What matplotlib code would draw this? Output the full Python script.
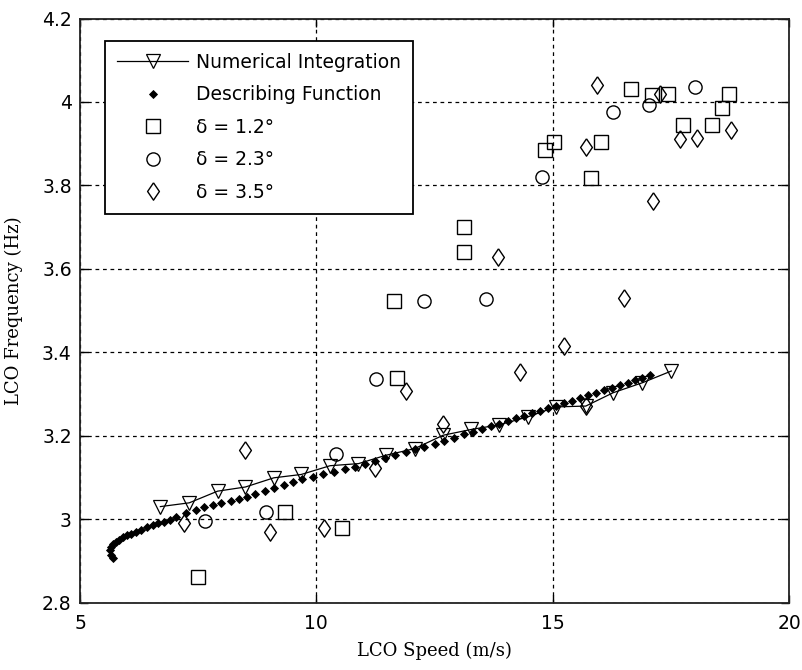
import matplotlib
matplotlib.use("Agg")
import matplotlib.pyplot as plt
from matplotlib.ticker import FuncFormatter

# numerical integration (triangles joined by a line)
num_speed = [6.70, 7.31, 7.91, 8.50, 9.10, 9.68, 10.29, 10.89, 11.47, 12.08,
             12.68, 13.28, 13.87, 14.47, 15.07, 15.70, 16.28, 16.90, 17.51]
num_freq = [3.030, 3.039, 3.067, 3.077, 3.099, 3.107, 3.128, 3.133, 3.153, 3.169,
            3.201, 3.215, 3.226, 3.245, 3.269, 3.271, 3.303, 3.327, 3.355]

# describing function (dense small dots)
df_speed = [5.70, 5.66, 5.63, 5.65, 5.70, 5.76, 5.83, 5.91, 6.00, 6.08,
            6.18, 6.29, 6.41, 6.54, 6.66, 6.78, 6.90, 7.03, 7.24, 7.45,
            7.63, 7.82, 7.99, 8.19, 8.36, 8.54, 8.71, 8.92, 9.11, 9.31,
            9.50, 9.70, 9.93, 10.14, 10.37, 10.61, 10.82, 11.03, 11.24, 11.45,
            11.66, 11.89, 12.08, 12.28, 12.51, 12.71, 12.92, 13.13, 13.32, 13.51,
            13.70, 13.87, 14.06, 14.23, 14.40, 14.56, 14.73, 14.90, 15.07, 15.24,
            15.41, 15.58, 15.74, 15.91, 16.08, 16.25, 16.42, 16.59, 16.75, 16.90,
            17.05]
df_freq = [2.906, 2.915, 2.926, 2.934, 2.940, 2.946, 2.951, 2.956, 2.961, 2.965,
           2.970, 2.975, 2.980, 2.986, 2.990, 2.994, 2.999, 3.005, 3.015, 3.023,
           3.030, 3.035, 3.039, 3.043, 3.048, 3.054, 3.060, 3.067, 3.074, 3.081,
           3.088, 3.095, 3.101, 3.107, 3.112, 3.119, 3.125, 3.132, 3.140, 3.147,
           3.154, 3.160, 3.167, 3.173, 3.181, 3.188, 3.195, 3.203, 3.210, 3.217,
           3.223, 3.229, 3.236, 3.242, 3.248, 3.254, 3.260, 3.266, 3.272, 3.278,
           3.284, 3.291, 3.297, 3.303, 3.309, 3.315, 3.321, 3.327, 3.333, 3.339,
           3.345]

# experiments
d12_speed = [7.49, 9.33, 10.55, 11.70, 11.64, 13.13, 13.13, 14.84, 15.02, 15.81,
             16.03, 16.65, 17.11, 17.44, 17.76, 18.37, 18.58, 18.73]
d12_freq = [2.861, 3.016, 2.978, 3.339, 3.523, 3.700, 3.640, 3.886, 3.905, 3.818,
            3.905, 4.032, 4.016, 4.020, 3.946, 3.946, 3.986, 4.020]

d23_speed = [7.64, 8.93, 10.41, 11.26, 12.27, 13.58, 14.77, 16.28, 17.04, 18.02]
d23_freq = [2.996, 3.018, 3.157, 3.335, 3.523, 3.527, 3.820, 3.976, 3.992, 4.035]

d35_speed = [7.20, 9.01, 8.50, 10.17, 11.24, 11.89, 12.68, 13.84, 14.30, 15.24,
             15.70, 16.50, 15.93, 15.70, 17.12, 17.28, 17.69, 18.05, 18.78]
d35_freq = [2.990, 2.968, 3.165, 2.978, 3.123, 3.307, 3.227, 3.628, 3.353, 3.414,
            3.270, 3.529, 4.040, 3.892, 3.762, 4.020, 3.912, 3.914, 3.933]

x_ticks = [5, 10, 15, 20]
y_ticks = [2.8, 3.0, 3.2, 3.4, 3.6, 3.8, 4.0, 4.2]

# matlab-like diamond, a bit taller than wide
diamond = [(0, 1), (0.68, 0), (0, -1), (-0.68, 0), (0, 1)]

fig = plt.figure(figsize=(8.02, 6.70), dpi=100)
ax = fig.add_axes([0.0998, 0.1007, 0.884, 0.8716])

ax.plot(num_speed, num_freq, '-', color='k', lw=0.9, marker='v', ms=10.5,
        mfc='none', mec='k', mew=0.9, label='Numerical Integration')
ax.plot(df_speed, df_freq, 'D', color='k', ms=3.9, mew=0.6,
        label='Describing Function')
ax.plot(d12_speed, d12_freq, 's', ms=10, mfc='none', mec='k', mew=1.0,
        label='δ = 1.2°')
ax.plot(d23_speed, d23_freq, 'o', ms=9.5, mfc='none', mec='k', mew=1.0,
        label='δ = 2.3°')
ax.plot(d35_speed, d35_freq, ls='none', marker=diamond, ms=12.5, mfc='none',
        mec='k', mew=1.0, label='δ = 3.5°')

ax.set_xlim(5, 20)
ax.set_ylim(2.8, 4.2)
ax.set_xticks(x_ticks)
ax.set_yticks(y_ticks)
ax.yaxis.set_major_formatter(FuncFormatter(lambda v, p: '%g' % v))
ax.grid(True, color='k', linestyle=(0, (3, 3)), linewidth=0.9)
ax.tick_params(direction='in', length=6, width=1, top=True, right=True,
               labelsize=13.5, colors='k')
ax.tick_params(axis='x', pad=8)
ax.tick_params(axis='y', pad=6)
for s in ax.spines.values():
    s.set_linewidth(1.3)
    s.set_color('#222222')

ax.set_xlabel('LCO Speed (m/s)', family='DejaVu Serif', fontsize=13)
ax.set_ylabel('LCO Frequency (Hz)', family='DejaVu Serif', fontsize=13)
ax.xaxis.set_label_coords(0.5, -0.068)
ax.yaxis.set_label_coords(-0.08, 0.5)

leg = ax.legend(loc='upper left', bbox_to_anchor=(0.035, 0.962), borderaxespad=0,
                fontsize=13.5, handlelength=3.8, handletextpad=0.4,
                labelspacing=0.72, borderpad=0.65, fancybox=False,
                framealpha=1, edgecolor='k')
leg.get_frame().set_linewidth(1.3)

fig.savefig('out.png', dpi=100)
